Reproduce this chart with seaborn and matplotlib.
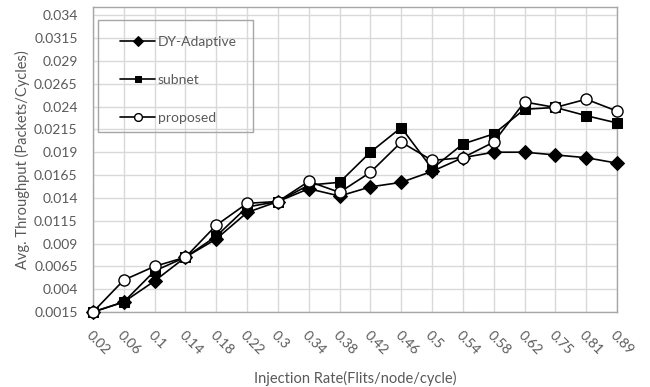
import numpy as np
import pandas as pd
import matplotlib
matplotlib.use("Agg")
import matplotlib.pyplot as plt
import matplotlib.patches as mpatches
import seaborn as sns

categories = ["0.02", "0.06", "0.1", "0.14", "0.18", "0.22", "0.3", "0.34", "0.38",
              "0.42", "0.46", "0.5", "0.54", "0.58", "0.62", "0.75", "0.81", "0.89"]
dy_adaptive = [0.0015, 0.0026, 0.0049, 0.0075, 0.0095, 0.0124, 0.0136, 0.0150, 0.0142,
               0.0152, 0.0157, 0.0169, 0.0184, 0.0190, 0.0190, 0.0187, 0.0184, 0.0178]
subnet = [0.0015, 0.0026, 0.0060, 0.0075, 0.0098, 0.0130, 0.0136, 0.0154, 0.0157,
          0.0190, 0.0217, 0.0172, 0.0199, 0.0210, 0.0237, 0.0239, 0.0230, 0.0222]
proposed = [0.0015, 0.0050, 0.0065, 0.0075, 0.0110, 0.0134, 0.0136, 0.0158, 0.0146,
            0.0168, 0.0201, 0.0181, 0.0184, 0.0201, 0.0245, 0.0239, 0.0248, 0.0235]
y_ticks = [0.0015, 0.004, 0.0065, 0.009, 0.0115, 0.014, 0.0165, 0.019, 0.0215,
           0.024, 0.0265, 0.029, 0.0315, 0.034]
y_tick_labels = ["0.0015", "0.004", "0.0065", "0.009", "0.0115", "0.014", "0.0165",
                 "0.019", "0.0215", "0.024", "0.0265", "0.029", "0.0315", "0.034"]

sns.set_style("white")
plt.rcParams['font.family'] = ['Lato', 'DejaVu Sans']

pos = np.arange(len(categories))
df = pd.DataFrame({"pos": pos, "DY-Adaptive": dy_adaptive, "subnet": subnet, "proposed": proposed})

W, H = 650, 387
fig = plt.figure(figsize=(6.5, 3.87), dpi=100)
ax = fig.add_axes([93/W, 1-312/H, (617-93)/W, (312-7)/H])

txt = "#595959"
sns.lineplot(data=df, x="pos", y="DY-Adaptive", ax=ax, color="black", lw=1.2,
             marker="D", markersize=7, markerfacecolor="black", markeredgecolor="black",
             label="DY-Adaptive", zorder=3, clip_on=False)
sns.lineplot(data=df, x="pos", y="subnet", ax=ax, color="black", lw=1.2,
             marker="s", markersize=6.5, markerfacecolor="black", markeredgecolor="black",
             label="subnet", zorder=3, clip_on=False)
sns.lineplot(data=df, x="pos", y="proposed", ax=ax, color="black", lw=1.2,
             marker="o", markersize=8, markerfacecolor="white", markeredgecolor="black",
             markeredgewidth=1.0, label="proposed", zorder=4, clip_on=False)

ax.set_xlim(0, len(categories) - 1)
ax.set_ylim(0.0015, 0.0349)
ax.set_xticks(pos)
ax.set_xticklabels(categories, rotation=-45, ha="left", va="top", rotation_mode="anchor",
                   color=txt, fontsize=10)
ax.set_yticks(y_ticks)
ax.set_yticklabels(y_tick_labels, color=txt, fontsize=10)
ax.tick_params(axis="y", length=0, pad=11)
ax.tick_params(axis="x", length=0, pad=12)

ax.grid(True, color="#d9d9d9", lw=1.0)
ax.set_axisbelow(True)
for s in ax.spines.values():
    s.set_color("#a6a6a6")
    s.set_linewidth(1.0)

ax.set_xlabel("Injection Rate(Flits/node/cycle)", color=txt, fontsize=10.5, labelpad=10)
ax.set_ylabel("Avg. Throughput (Packets/Cycles)", color=txt, fontsize=10.5, labelpad=3)

# legend box drawn separately, legend itself without frame
x0, x1, y0, y1 = 98, 253, 20, 132
box = mpatches.Rectangle(((x0 - 93) / 524, (312 - y1) / 305), (x1 - x0) / 524, (y1 - y0) / 305,
                         transform=ax.transAxes, facecolor="none", edgecolor="#a6a6a6",
                         lw=1.0, zorder=5)
ax.add_patch(box)
leg = ax.legend(loc="upper left", bbox_to_anchor=((116 - 93) / 524, (312 - 32) / 305),
                frameon=False, fontsize=10, labelspacing=1.85, handlelength=2.5,
                handletextpad=0.2, borderpad=0.3, markerscale=0.7, borderaxespad=0)
for t in leg.get_texts():
    t.set_color(txt)

fig.savefig("out.png", dpi=100)
